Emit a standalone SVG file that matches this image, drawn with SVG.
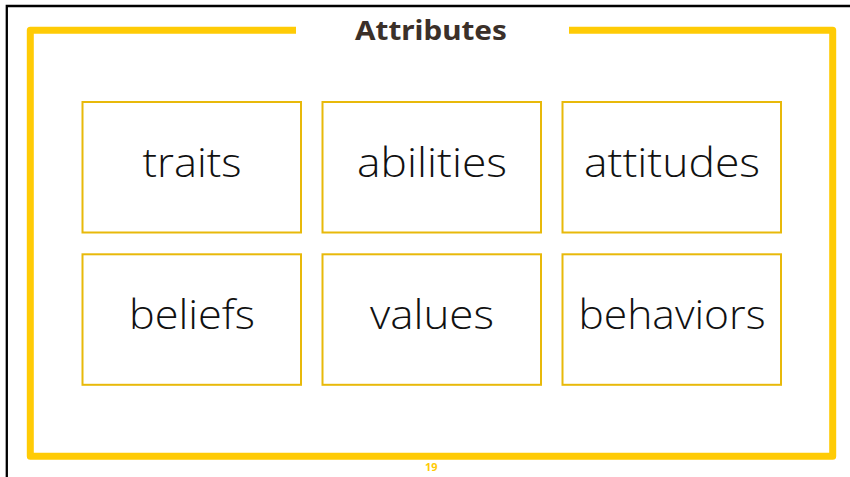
<svg xmlns="http://www.w3.org/2000/svg" width="850" height="477" viewBox="0 0 850 477">
  <style>
    .frame { fill: none; stroke: #FFCB05; stroke-width: 7; stroke-linejoin: round; stroke-linecap: butt; }
    .box { fill: #ffffff; stroke: #E8B90A; stroke-width: 2; }
    .label { font-family: "Open Sans", "Noto Sans", sans-serif; font-size: 40px; font-weight: 300; fill: #111111; text-anchor: middle; }
    .title { font-family: "Noto Sans", "Open Sans", sans-serif; font-size: 27px; font-weight: bold; fill: #3B3029; text-anchor: middle; }
    .pnum { font-family: "Noto Sans", "Open Sans", sans-serif; font-size: 11px; font-weight: bold; fill: #FFCB05; text-anchor: middle; }
  </style>
  <rect x="0" y="0" width="850" height="477" fill="#ffffff"/>
  <!-- slide edge -->
  <path d="M6.8 477 V6 H850" fill="none" stroke="#000000" stroke-width="2.3"/>
  <!-- yellow frame -->
  <g id="frame">
    <path class="frame" d="M296 30.3 H30.3 V456.3 H832.7 V30.3 H569"/>
  </g>
  <g id="title">
    <text class="title" x="431" y="39.5" textLength="152" lengthAdjust="spacingAndGlyphs">Attributes</text>
  </g>
  <g id="node-traits">
    <rect class="box" x="82.5" y="102" width="218.5" height="130.5"/>
    <text class="label" x="192" y="177" textLength="99" lengthAdjust="spacingAndGlyphs">traits</text>
  </g>
  <g id="node-abilities">
    <rect class="box" x="322.5" y="102" width="218.5" height="130.5"/>
    <text class="label" x="432" y="177" textLength="150" lengthAdjust="spacingAndGlyphs">abilities</text>
  </g>
  <g id="node-attitudes">
    <rect class="box" x="562.5" y="102" width="218.5" height="130.5"/>
    <text class="label" x="672" y="177" textLength="176" lengthAdjust="spacingAndGlyphs">attitudes</text>
  </g>
  <g id="node-beliefs">
    <rect class="box" x="82.5" y="254.3" width="218.5" height="130.5"/>
    <text class="label" x="192" y="329" textLength="126" lengthAdjust="spacingAndGlyphs">beliefs</text>
  </g>
  <g id="node-values">
    <rect class="box" x="322.5" y="254.3" width="218.5" height="130.5"/>
    <text class="label" x="432" y="329" textLength="124" lengthAdjust="spacingAndGlyphs">values</text>
  </g>
  <g id="node-behaviors">
    <rect class="box" x="562.5" y="254.3" width="218.5" height="130.5"/>
    <text class="label" x="672" y="329" textLength="187" lengthAdjust="spacingAndGlyphs">behaviors</text>
  </g>
  <g id="connectors"></g>
  <g id="page-number">
    <text class="pnum" x="431.3" y="471">19</text>
  </g>
</svg>
